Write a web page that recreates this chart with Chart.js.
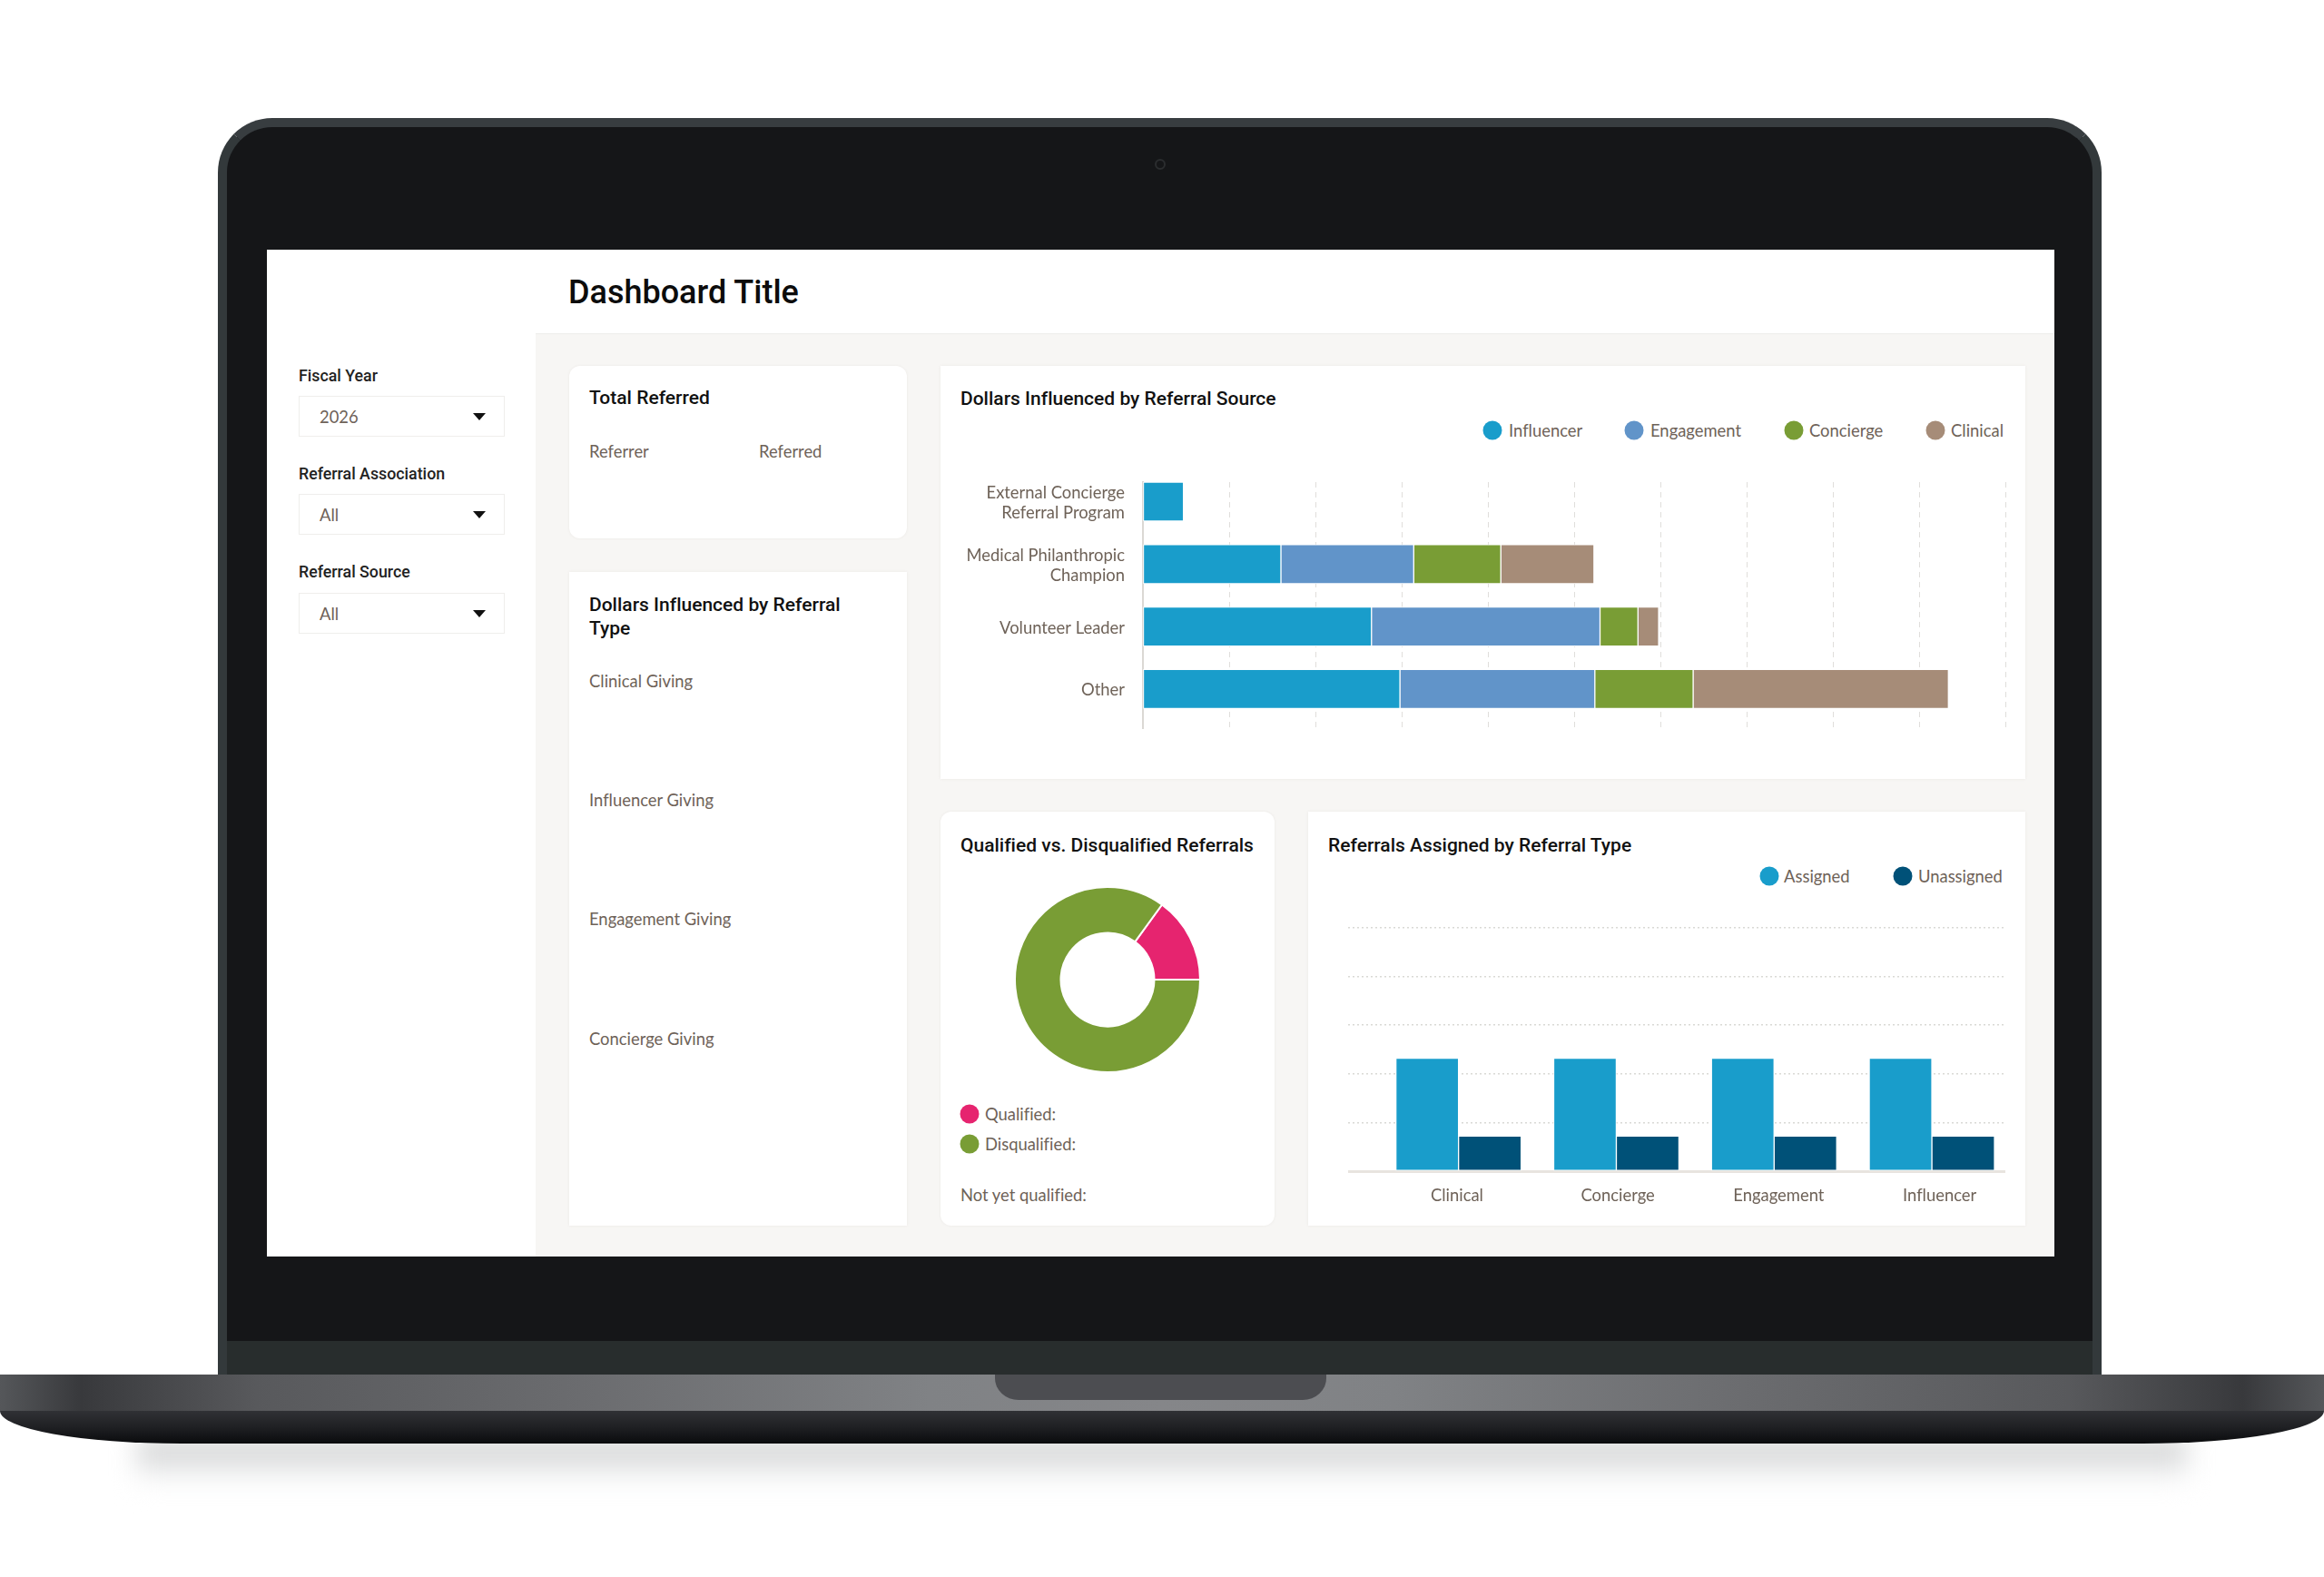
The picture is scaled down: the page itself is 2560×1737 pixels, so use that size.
<!DOCTYPE html>
<html>
<head>
<meta charset="utf-8">
<title>Dashboard Title</title>
<script src="https://cdn.jsdelivr.net/npm/chart.js@4"></script>
<style>
html, body { margin: 0; padding: 0; background: #fff; }
body { position: relative; width: 2560px; height: 1737px; overflow: hidden; font-family: Lato, sans-serif; font-variant-ligatures: none; }
div, canvas { position: absolute; }
.shadow { left: 150px; top: 1585px; width: 2260px; height: 50px; background: linear-gradient(#c8c9c9, #e6e7e8 55%, #fff); filter: blur(14px); }
.lid { left: 240px; top: 130px; width: 2075px; height: 1385px; box-sizing: border-box; background: #151618; border: 10px solid #33393b; border-top-color: #383d40; border-bottom: 0; border-radius: 60px 60px 0 0; }
.hinge { left: 250px; top: 1477px; width: 2055px; height: 37px; background: #282d2d; }
.base { left: 0; top: 1514px; width: 2560px; height: 40px; background: linear-gradient(90deg, #55575a 0, #38393c 3.5%, #58595c 11%, #6b6c6f 25%, #808285 40%, #858689 50%, #808285 60%, #6b6c6f 75%, #58595c 89%, #38393c 96.5%, #55575a 100%); }
.notch { left: 1096px; top: 1514px; width: 365px; height: 28px; background: #4c4d51; border-radius: 0 0 26px 26px / 0 0 24px 24px; }
.foot { left: 0; top: 1554px; width: 2560px; height: 36px; background: linear-gradient(#303135, #1f2023 50%, #0a0b0d); border-radius: 0 0 200px 200px / 0 0 36px 36px; }
.camera { left: 1272px; top: 175px; width: 8px; height: 8px; border: 2px solid #2b2d2f; border-radius: 50%; }
.screen { left: 294px; top: 275px; width: 1969px; height: 1109px; background: #f7f6f4; }
.top { left: 294px; top: 275px; width: 1969px; height: 92px; background: #fff; box-shadow: 0 1px 1px rgba(0,0,0,.03); }
.side { left: 294px; top: 367px; width: 296px; height: 1017px; background: #fff; }
.card { background: #fff; box-shadow: 0 0 3px rgba(90,80,70,.08); }
.round { border-radius: 12px; }
.sel { left: 329px; width: 227px; height: 45px; box-sizing: border-box; background: #fff; border: 1px solid #efeeec; }
.arrow { left: 521px; width: 0; height: 0; border-left: 7px solid transparent; border-right: 7px solid transparent; border-top: 8px solid #111; }
.t { white-space: nowrap; transform: translateY(-50%); font-size: 18.4px; color: #6e6258; line-height: 1; }
.h { color: #111; font-family: Roboto, sans-serif; font-weight: 500; font-size: 21px; }
.l { color: #222; font-family: Roboto, sans-serif; font-weight: 500; font-size: 17.8px; }
.dot { width: 21px; height: 21px; border-radius: 50%; transform: translate(-50%, -50%); }
</style>
</head>
<body>
<div class="shadow"></div>
<div class="lid"></div>
<div class="hinge"></div>
<div class="base"></div>
<div class="notch"></div>
<div class="foot"></div>
<div class="camera"></div>
<div class="screen"></div>
<div class="top"></div>
<div class="side"></div>

<div class="t" style="left:626px;top:322px;font-size:36px;color:#0c0c0c;font-family:Roboto,sans-serif;font-weight:500">Dashboard Title</div>

<div class="t l" style="left:329px;top:414px">Fiscal Year</div>
<div class="sel" style="top:436px"></div>
<div class="t" style="left:352px;top:459px">2026</div>
<div class="arrow" style="top:455px"></div>
<div class="t l" style="left:329px;top:522px">Referral Association</div>
<div class="sel" style="top:544px"></div>
<div class="t" style="left:352px;top:567px">All</div>
<div class="arrow" style="top:563px"></div>
<div class="t l" style="left:329px;top:630px">Referral Source</div>
<div class="sel" style="top:653px"></div>
<div class="t" style="left:352px;top:676px">All</div>
<div class="arrow" style="top:672px"></div>

<div class="card round" style="left:627px;top:403px;width:372px;height:190px"></div>
<div class="t h" style="left:649px;top:438px">Total Referred</div>
<div class="t" style="left:649px;top:497px">Referrer</div>
<div class="t" style="left:836px;top:497px">Referred</div>

<div class="card" style="left:627px;top:630px;width:372px;height:720px"></div>
<div class="t h" style="left:649px;top:666px">Dollars Influenced by Referral</div>
<div class="t h" style="left:649px;top:692px">Type</div>
<div class="t" style="left:649px;top:750px">Clinical Giving</div>
<div class="t" style="left:649px;top:881px">Influencer Giving</div>
<div class="t" style="left:649px;top:1012px">Engagement Giving</div>
<div class="t" style="left:649px;top:1144px">Concierge Giving</div>

<div class="card" style="left:1036px;top:403px;width:1195px;height:455px"></div>
<div class="t h" style="left:1058px;top:439px">Dollars Influenced by Referral Source</div>
<div id="sourceLegend"></div>
<canvas id="sourceChart" style="left:1040px;top:529px"></canvas>

<div class="card round" style="left:1036px;top:894px;width:368px;height:456px"></div>
<div class="t h" style="left:1058px;top:931px">Qualified vs. Disqualified Referrals</div>
<canvas id="qualifiedChart" style="left:1117px;top:976px"></canvas>
<div class="dot" style="left:1068px;top:1227px;background:#e6246f"></div>
<div class="t" style="left:1085px;top:1227px">Qualified:</div>
<div class="dot" style="left:1068px;top:1260px;background:#799d35"></div>
<div class="t" style="left:1085px;top:1260px">Disqualified:</div>
<div class="t" style="left:1058px;top:1316px">Not yet qualified:</div>

<div class="card" style="left:1441px;top:894px;width:790px;height:456px"></div>
<div class="t h" style="left:1463px;top:931px">Referrals Assigned by Referral Type</div>
<div id="assignedLegend"></div>
<canvas id="assignedChart" style="left:1485px;top:1018px"></canvas>

<script>
const sourceLabels = [["External Concierge", "Referral Program"], ["Medical Philanthropic", "Champion"], "Volunteer Leader", "Other"];
const influencerValues = [0.47, 1.6, 2.65, 2.98];
const engagementValues = [0, 1.54, 2.65, 2.26];
const conciergeValues = [0, 1.01, 0.44, 1.14];
const clinicalValues = [0, 1.08, 0.24, 2.96];

const qualifiedLabels = ["Qualified", "Disqualified"];
const qualifiedValues = [15, 85];

const typeLabels = ["Clinical", "Concierge", "Engagement", "Influencer"];
const assignedValues = [2.32, 2.32, 2.32, 2.32];
const unassignedValues = [0.72, 0.72, 0.72, 0.72];

const colors = {
  Influencer: "#199dcb",
  Engagement: "#6194c9",
  Concierge: "#799d35",
  Clinical: "#a68c78",
  Assigned: "#199dcb",
  Unassigned: "#005178"
};

const textColor = "#6e6258";
const labelFont = { family: "Lato, sans-serif", size: 18.4, lineHeight: 1.17 };

Chart.defaults.animation = false;
Chart.defaults.responsive = false;
Chart.defaults.plugins.legend.display = false;

function sizeCanvas(id, width, height) {
  const canvas = document.getElementById(id);
  canvas.width = width;
  canvas.height = height;
  return canvas;
}

function addLegend(id, name, dotX, textX, y) {
  const holder = document.getElementById(id);
  holder.insertAdjacentHTML("beforeend",
    `<div class="dot" style="left:${dotX}px;top:${y}px;background:${colors[name]}"></div>` +
    `<div class="t" style="left:${textX}px;top:${y}px">${name}</div>`);
}

addLegend("sourceLegend", "Influencer", 1644, 1662, 474);
addLegend("sourceLegend", "Engagement", 1800, 1818, 474);
addLegend("sourceLegend", "Concierge", 1976, 1993, 474);
addLegend("sourceLegend", "Clinical", 2132, 2149, 474);
addLegend("assignedLegend", "Assigned", 1949, 1965, 965);
addLegend("assignedLegend", "Unassigned", 2096, 2113, 965);

function sourceDataset(name, values) {
  return {
    label: name,
    data: values.map((v, i) => ({ x: v, y: i })),
    backgroundColor: colors[name],
    borderColor: "#fff",
    borderWidth: 1,
    borderSkipped: false,
    barThickness: 43
  };
}

new Chart(sizeCanvas("sourceChart", 1172, 274), {
  type: "bar",
  data: {
    datasets: [
      sourceDataset("Influencer", influencerValues),
      sourceDataset("Engagement", engagementValues),
      sourceDataset("Concierge", conciergeValues),
      sourceDataset("Clinical", clinicalValues)
    ]
  },
  options: {
    indexAxis: "y",
    layout: { padding: { top: 2, right: 3 } },
    scales: {
      x: {
        stacked: true,
        min: 0,
        max: 10,
        ticks: { stepSize: 1, display: false },
        afterFit: (scale) => { scale.height = 0; },
        grid: { color: "#e0dedb", drawTicks: false },
        border: { display: false, dash: [6, 5] }
      },
      // linear so the rows can sit higher than the gridlines, as in the picture
      y: {
        type: "linear",
        stacked: true,
        offset: false,
        reverse: true,
        min: -0.312,
        max: 3.64,
        afterBuildTicks: (scale) => { scale.ticks = sourceLabels.map((_, i) => ({ value: i })); },
        afterFit: (scale) => {
          scale.width = 219;
          scale.paddingTop = 0;
          scale.paddingBottom = 0;
        },
        ticks: {
          autoSkip: false,
          padding: 20,
          labelOffset: 1.5,
          color: textColor,
          font: labelFont,
          callback: (value) => sourceLabels[value]
        },
        grid: { display: false, drawTicks: false },
        border: { color: "#dbd8d4", width: 2 }
      }
    }
  }
});

new Chart(sizeCanvas("qualifiedChart", 206, 206), {
  type: "doughnut",
  data: {
    labels: qualifiedLabels,
    datasets: [{
      data: qualifiedValues,
      backgroundColor: ["#e6246f", "#799d35"],
      borderColor: "#fff",
      borderWidth: 2
    }]
  },
  options: { cutout: "50.5%", rotation: 36 }
});

function typeDataset(name, values) {
  return {
    label: name,
    data: values.map((v, i) => ({ x: i, y: v })),
    backgroundColor: colors[name],
    borderColor: "#fff",
    borderWidth: 1,
    borderSkipped: false,
    barThickness: 69
  };
}

new Chart(sizeCanvas("assignedChart", 727, 312), {
  type: "bar",
  data: {
    datasets: [
      typeDataset("Assigned", assignedValues),
      typeDataset("Unassigned", unassignedValues)
    ]
  },
  options: {
    layout: { padding: { top: 4, right: 4 } },
    scales: {
      x: {
        type: "linear",
        offset: false,
        min: -0.7,
        max: 3.46,
        afterBuildTicks: (scale) => { scale.ticks = typeLabels.map((_, i) => ({ value: i })); },
        afterFit: (scale) => { scale.height = 0; },
        ticks: { display: false },
        grid: { display: false },
        border: { color: "#e8e4df", width: 3 }
      },
      // the labels are spaced a little wider than the bars in the picture
      labelAxis: {
        type: "linear",
        position: "bottom",
        axis: "x",
        offset: false,
        min: -0.677,
        max: 3.403,
        afterBuildTicks: (scale) => { scale.ticks = typeLabels.map((_, i) => ({ value: i })); },
        afterFit: (scale) => { scale.height = 40; },
        ticks: {
          autoSkip: false,
          maxRotation: 0,
          padding: 16,
          color: textColor,
          font: labelFont,
          callback: (value) => typeLabels[value]
        },
        grid: { display: false, drawTicks: false },
        border: { display: false }
      },
      y: {
        min: 0,
        max: 5,
        ticks: { stepSize: 1, display: false },
        afterFit: (scale) => { scale.width = 0; },
        grid: { color: "#d9d9d5", lineWidth: 1.5, drawTicks: false },
        border: { display: false, dash: [2, 3] }
      }
    }
  }
});
</script>
</body>
</html>
